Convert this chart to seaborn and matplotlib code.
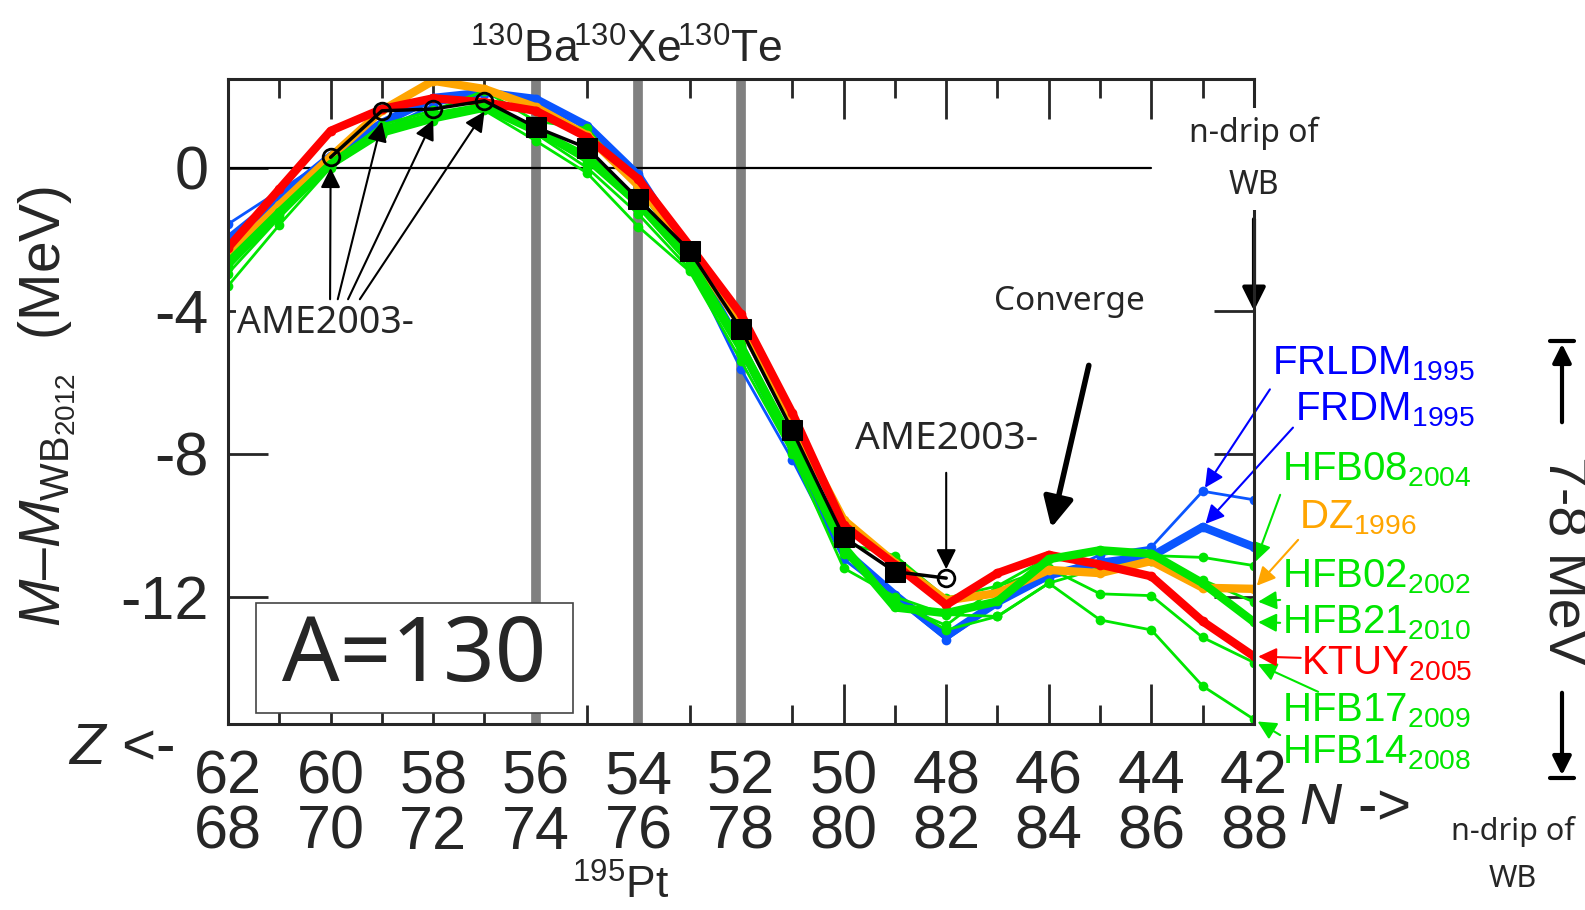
import matplotlib
matplotlib.use("Agg")
import matplotlib.pyplot as plt
import seaborn as sns

sns.set_style("ticks")
plt.rcParams["font.family"] = ["Liberation Sans", "DejaVu Sans"]
plt.rcParams["mathtext.fontset"] = "custom"
plt.rcParams["mathtext.rm"] = "Liberation Sans"
plt.rcParams["mathtext.it"] = "Liberation Sans:italic"
plt.rcParams["mathtext.bf"] = "Liberation Sans:bold"
plt.rcParams["axes.unicode_minus"] = False

# proton number Z, mass number A=130 (N = A - Z)
A = 130
z = [62, 61, 60, 59, 58, 57, 56, 55, 54, 53, 52, 51, 50, 49, 48, 47, 46, 45, 44, 43, 42]

# M - M_WB2012 (MeV) for each mass model
frldm = [-1.58, -0.65, 0.30, 1.05, 1.75, 2.05, 1.90, 1.10, -0.18, -2.70, -5.64, -8.17, -10.95, -12.05, -13.20, -12.20, -11.48, -10.83, -10.61, -9.05, -9.29]
frdm = [-2.00, -0.85, 0.32, 1.25, 1.95, 2.10, 1.92, 1.17, -0.22, -2.45, -5.00, -7.80, -10.70, -11.95, -13.10, -12.15, -11.40, -11.05, -10.87, -10.05, -10.61]
hfb08 = [-2.75, -1.30, 0.10, 1.20, 1.60, 2.15, 1.30, 1.10, -0.60, -2.50, -4.90, -7.60, -10.50, -10.85, -12.04, -11.70, -10.90, -10.73, -10.85, -10.90, -11.13]
dz = [-2.45, -1.05, 0.30, 1.60, 2.43, 2.20, 1.69, 0.90, -0.50, -2.30, -4.40, -7.10, -9.85, -11.05, -12.10, -11.90, -11.25, -11.34, -11.00, -11.75, -11.78]
hfb02 = [-2.82, -1.35, 0.05, 1.00, 1.40, 1.75, 1.00, 0.15, -1.10, -2.70, -5.17, -7.80, -10.70, -12.10, -12.93, -12.55, -11.62, -11.20, -11.00, -11.53, -12.15]
hfb21 = [-2.66, -1.25, 0.10, 1.05, 1.45, 1.70, 1.03, 0.30, -1.00, -2.60, -5.00, -7.70, -10.60, -12.30, -12.46, -12.13, -10.95, -10.70, -10.80, -11.62, -12.71]
ktuy = [-2.24, -0.60, 1.03, 1.64, 1.94, 1.83, 1.59, 0.85, -0.32, -2.19, -4.10, -6.86, -10.00, -11.10, -12.23, -11.34, -10.83, -11.10, -11.43, -12.69, -13.67]
hfb17 = [-2.96, -1.40, 0.05, 0.95, 1.35, 1.70, 0.95, 0.00, -1.30, -2.84, -5.20, -7.90, -10.80, -12.20, -12.80, -11.71, -11.20, -11.92, -11.97, -13.14, -13.84]
hfb14 = [-3.31, -1.60, 0.00, 0.90, 1.30, 1.60, 0.75, -0.15, -1.65, -2.90, -5.40, -8.00, -11.20, -12.00, -12.50, -12.55, -11.62, -12.65, -12.93, -14.50, -15.43]

# experimental (AME) values, measured and AME2003 extrapolated
ame_z = [60, 59, 58, 57, 56, 55, 54, 53, 52, 51, 50, 49, 48]
ame_val = [0.29, 1.59, 1.64, 1.87, 1.13, 0.55, -0.88, -2.33, -4.52, -7.35, -10.33, -11.30, -11.48]
ame_meas = [False, False, False, False, True, True, True, True, True, True, True, True, False]

nuclei_z = [56, 54, 52]
nuclei = ["Ba", "Xe", "Te"]

BLUE, GREEN, ORANGE, RED = "#0a55ff", "#00e600", "#ffa500", "#ff0000"
LBLUE = "#0000ff"

fig = plt.figure(figsize=(15.85, 9.10), dpi=100)
ax = fig.add_axes([228 / 1585, 1 - 724 / 910, 1026 / 1585, 645 / 910])

for zz in nuclei_z:
    ax.axvline(zz, color="#808080", lw=7, zorder=1)
ax.axhline(0, xmin=0, xmax=0.9, color="black", lw=1.6, zorder=1.5)

# (name, year, values, line color, label color, thick?, zorder, label pos, arrow tail, arrow target Z)
models = [
    ("FRLDM", "1995", frldm, BLUE, LBLUE, False, 3.0, (41.65, -5.48), (41.69, -6.2), 43),
    ("FRDM", "1995", frdm, BLUE, LBLUE, True, 3.1, (41.20, -6.78), (41.24, -7.27), 43),
    ("HFB14", "2008", hfb14, GREEN, GREEN, False, 3.2, (41.45, -16.37), (41.49, -15.87), 42),
    ("HFB17", "2009", hfb17, GREEN, GREEN, False, 3.3, (41.45, -15.20), (40.75, -14.66), 42),
    ("HFB02", "2002", hfb02, GREEN, GREEN, False, 3.4, (41.45, -11.44), (41.49, -12.09), 42),
    ("HFB08", "2004", hfb08, GREEN, GREEN, False, 3.5, (41.45, -8.45), (41.49, -9.15), 42),
    ("DZ", "1996", dz, ORANGE, ORANGE, True, 3.6, (41.12, -9.78), (41.14, -10.41), 42),
    ("KTUY", "2005", ktuy, RED, RED, True, 3.7, (41.08, -13.88), (41.09, -13.71), 42),
    ("HFB21", "2010", hfb21, GREEN, GREEN, True, 3.8, (41.45, -12.73), (41.49, -12.73), 42),
]

for name, year, vals, col, lcol, thick, zo, lpos, tail, tz in models:
    sns.lineplot(x=z, y=vals, ax=ax, color=col, lw=6 if thick else 2,
                 marker="o", markersize=7, markeredgewidth=0,
                 markeredgecolor=col, zorder=zo)
    ax.text(lpos[0], lpos[1], name + r"$_{" + year + "}$", color=lcol,
            fontsize=29, ha="left", va="center", clip_on=False)
    ax.annotate("", xy=(tz, vals[z.index(tz)]), xytext=tail,
                annotation_clip=False,
                arrowprops=dict(arrowstyle="-|>", color=lcol, lw=1.5,
                                mutation_scale=28, shrinkA=0, shrinkB=3))

# experimental line
sns.lineplot(x=ame_z, y=ame_val, ax=ax, color="black", lw=2.5, zorder=5)
mz = [a for a, m in zip(ame_z, ame_meas) if m]
mv = [b for b, m in zip(ame_val, ame_meas) if m]
ez = [a for a, m in zip(ame_z, ame_meas) if not m]
ev = [b for b, m in zip(ame_val, ame_meas) if not m]
sns.lineplot(x=mz, y=mv, ax=ax, color="black", ls="none", marker="s",
             markersize=15, markeredgecolor="black", zorder=6)
sns.lineplot(x=ez, y=ev, ax=ax, color="black", ls="none", marker="o",
             markersize=12, markerfacecolor="none", markeredgecolor="black",
             markeredgewidth=2, zorder=6)

ax.set_xlim(62, 42)
ax.set_ylim(-15.56, 2.48)

ax.set_xticks(z[::2])
ax.set_xticklabels([f"{v}\n{A - v}" for v in z[::2]], fontsize=44, linespacing=0.97)
ax.set_xticks(z[1::2], minor=True)
ax.set_yticks([0, -4, -8, -12])
ax.set_yticklabels(["0", "-4", "-8", "-12"], fontsize=44)
ax.tick_params(axis="both", which="major", direction="in", length=29, width=2,
               top=True, right=True, labeltop=False, labelright=False)
ax.tick_params(axis="x", which="major", pad=18)
ax.tick_params(axis="y", which="major", pad=14)
ax.tick_params(axis="x", which="minor", direction="in", length=14, width=2,
               top=True, bottom=True)
ax.yaxis.get_major_ticks()[0].tick2line.set_visible(False)
for sp in ax.spines.values():
    sp.set_linewidth(2.2)
    sp.set_zorder(7)

ax.set_xlabel("")
ax.set_ylabel(r"$M$–$M_{\mathrm{WB}_{2012}}$  (MeV)", fontsize=41)
ax.yaxis.set_label_coords(-0.147, 0.493)

# nuclide labels on top
for zz, el in zip(nuclei_z, nuclei):
    ax.text(zz + 0.22, 1.025, r"$^{" + str(A) + "}$" + el, fontsize=32,
            ha="center", va="baseline", transform=ax.get_xaxis_transform())
fig.text(621 / 1585, 2 / 910, r"$^{195}$Pt", fontsize=32, ha="center", va="bottom")

fig.text(121 / 1585, 1 - 749 / 910, r"$Z$ <-", fontsize=42, ha="center", va="center")
fig.text(1355 / 1585, 1 - 809 / 910, r"$N$ ->", fontsize=42, ha="center", va="center")

# A=130 box
ax.add_patch(plt.Rectangle((0.027, 0.017), 0.309, 0.171, transform=ax.transAxes,
                           facecolor="white", edgecolor="#444444", lw=1.2, zorder=8))
ax.text(0.1815, 0.1025, "A=130", transform=ax.transAxes, fontsize=65,
        family="Noto Sans", ha="center", va="center", zorder=9)

# AME2003 annotations
ax.text(60.1, -4.35, "AME2003-", fontsize=27, family="Noto Sans", ha="center",
        va="center", zorder=9, bbox=dict(facecolor="white", edgecolor="none", pad=1))
for hx, tx in zip(ez[:4], [60.01, 59.86, 59.66, 59.43]):
    ax.annotate("", xy=(hx, ev[ez.index(hx)] - 0.3), xytext=(tx, -3.68),
                arrowprops=dict(arrowstyle="-|>", color="black", lw=1.5,
                                mutation_scale=30, shrinkA=0, shrinkB=0), zorder=8)
ax.annotate("AME2003-", xy=(ez[-1], ev[-1] + 0.25), xytext=(48.0, -7.6),
            fontsize=28, family="Noto Sans", ha="center", va="center",
            arrowprops=dict(arrowstyle="-|>", color="black", lw=1.5,
                            mutation_scale=30, shrinkA=8, shrinkB=0))

# converge
ax.text(45.6, -3.75, "Converge", fontsize=24, family="Noto Sans", ha="center", va="center")
ax.annotate("", xy=(45.95, -10.07), xytext=(45.22, -5.53),
            arrowprops=dict(arrowstyle="-|>", color="black", lw=4,
                            mutation_scale=45, shrinkA=0, shrinkB=0))

# n-drip of WB
ax.text(42, 0.24, "n-drip of\nWB", fontsize=23, family="Noto Sans", ha="center",
        va="center", linespacing=1.75, zorder=10, clip_on=False,
        bbox=dict(facecolor="white", edgecolor="none", pad=6))
ax.annotate("", xy=(42, -4.0), xytext=(42, -1.44),
            arrowprops=dict(arrowstyle="-|>", color="black", lw=3,
                            mutation_scale=35, shrinkA=0, shrinkB=0))
fig.text(1513 / 1585, 1 - 855 / 910, "n-drip of\nWB", fontsize=22, family="Noto Sans",
         ha="center", va="center", linespacing=1.75)

# 7-8 MeV bracket
bx = 1562 / 1585
fig.text(bx, 1 - 561 / 910, "7-8 MeV", fontsize=40, rotation=-90, ha="center", va="center")
for y0, y1 in [(1 - 425 / 910, 1 - 341 / 910), (1 - 690 / 910, 1 - 778 / 910)]:
    fig.add_artist(matplotlib.patches.FancyArrowPatch(
        (bx, y0), (bx, y1), transform=fig.transFigure, arrowstyle="-|>",
        mutation_scale=28, lw=3, color="black"))
    fig.add_artist(matplotlib.lines.Line2D([bx - 12 / 1585, bx + 12 / 1585], [y1, y1],
                                           transform=fig.transFigure, lw=3, color="black"))

fig.savefig("out.png", dpi=100)
